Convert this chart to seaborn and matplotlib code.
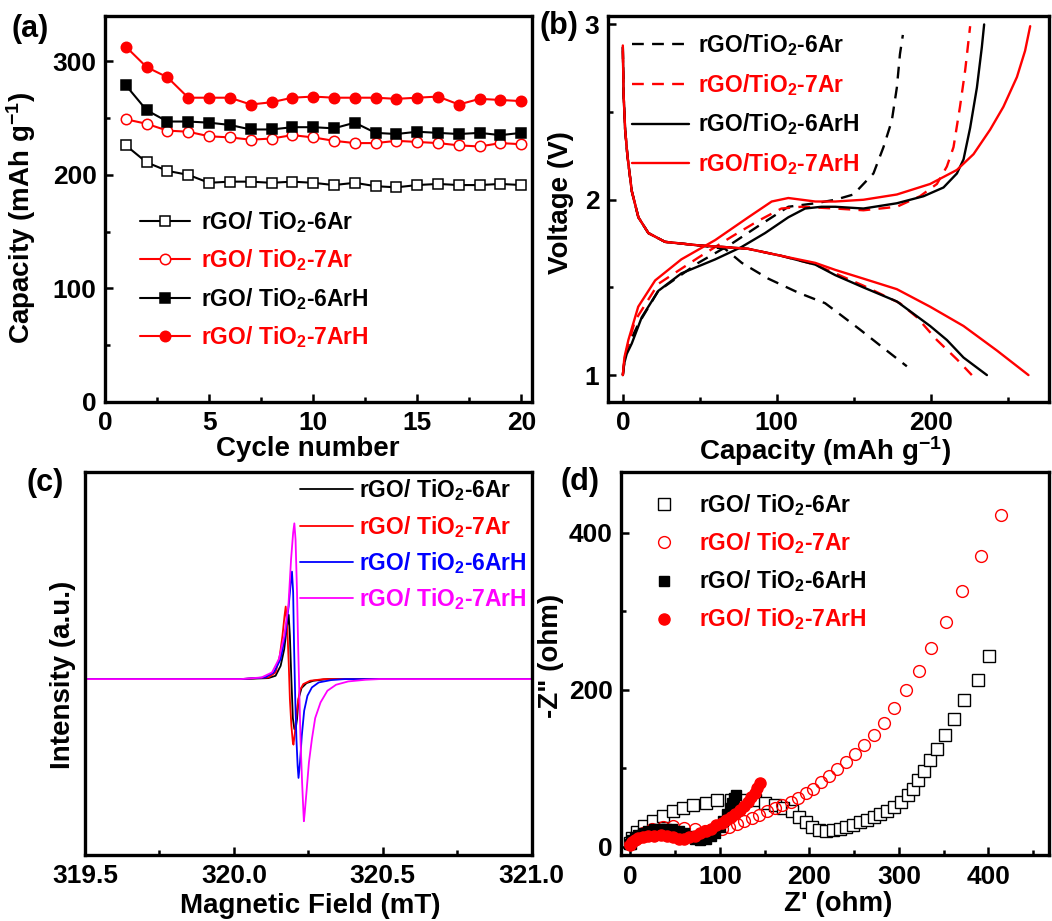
import matplotlib
matplotlib.use("Agg")
import matplotlib.pyplot as plt
import seaborn as sns
from matplotlib.ticker import MultipleLocator, FormatStrFormatter

# ---------------- (a) cycling performance ----------------
cycles = list(range(1, 21))
cap_6ar = [226, 211, 203.5, 200, 193, 194, 194, 193, 194, 193,
           191, 193, 190, 189, 191, 192, 191, 191, 192, 191]
cap_7ar = [249, 245, 239, 238, 234, 233, 231, 232, 235, 233,
           230, 228, 228, 230, 229, 228, 226, 225, 228, 227]
cap_6arh = [279, 257, 247, 247, 246, 244, 240, 240, 242, 242,
            241, 246, 237, 236, 238, 237, 236, 237, 235, 237]
cap_7arh = [313, 295, 286, 268, 268, 268, 262, 264, 268, 269,
            268, 268, 268, 267, 268, 269, 262, 267, 266, 265]

# ---------------- (b) charge / discharge profiles ----------------
dis_6ar_x = [0, 0.5, 1.5, 3, 5.8, 10.1, 16.6, 27.4, 49, 66.4, 77.3, 94.5, 114, 131.4, 139, 154, 167, 184.5]
dis_6ar_v = [2.87, 2.6, 2.4, 2.25, 2.05, 1.90, 1.81, 1.76, 1.74, 1.72, 1.64, 1.55, 1.47, 1.41, 1.36, 1.26, 1.17, 1.05]
chg_6ar_x = [0, 1, 3, 10, 23, 49, 70.8, 88, 107.5, 125, 138, 149.8, 162.8, 169.3, 174.7, 178, 180, 181.9]
chg_6ar_v = [1.0, 1.08, 1.16, 1.29, 1.48, 1.64, 1.75, 1.85, 1.96, 1.98, 2.0, 2.03, 2.15, 2.30, 2.45, 2.64, 2.83, 2.94]

dis_7ar_x = [0, 0.5, 1.5, 3, 5.8, 10.1, 16.6, 27.4, 49, 66.4, 81.5, 103, 125, 138, 156.3, 180, 191, 204, 217, 226.7]
dis_7ar_v = [2.85, 2.6, 2.4, 2.25, 2.05, 1.90, 1.81, 1.76, 1.74, 1.73, 1.72, 1.68, 1.63, 1.58, 1.51, 1.41, 1.33, 1.20, 1.09, 1.0]
chg_7ar_x = [0, 1, 3, 7.9, 23, 49, 70.8, 88, 103, 116, 138, 156.3, 178, 193, 204, 210.5, 214.8, 219, 222.4, 225.6]
chg_7ar_v = [1.0, 1.08, 1.16, 1.31, 1.52, 1.67, 1.79, 1.88, 1.95, 1.96, 1.95, 1.94, 1.96, 2.02, 2.09, 2.19, 2.30, 2.53, 2.74, 2.99]

dis_6arh_x = [0, 0.5, 1.5, 3, 5.8, 10.1, 16.6, 27.4, 49, 66.4, 81.5, 103, 125, 138, 156.3, 178, 188.8, 199.6,
              210.5, 221.3, 236.5]
dis_6arh_v = [2.87, 2.6, 2.4, 2.25, 2.05, 1.90, 1.81, 1.76, 1.74, 1.73, 1.72, 1.68, 1.63, 1.57, 1.50, 1.42, 1.35, 1.28,
              1.20, 1.10, 1.0]
chg_6arh_x = [0, 1, 2.5, 5.8, 12.3, 23, 38, 60, 77, 92.4, 107.5, 118.4, 129, 138, 156.3, 178, 195.3, 208.3,
              217, 221.3, 225.6, 230, 233.2, 234.7]
chg_6arh_v = [1.0, 1.07, 1.12, 1.18, 1.33, 1.48, 1.58, 1.66, 1.73, 1.81, 1.90, 1.95, 1.96, 1.96, 1.95, 1.98, 2.02, 2.07,
              2.15, 2.23, 2.41, 2.64, 2.87, 3.0]

dis_7arh_x = [0, 0.5, 1.5, 3, 5.8, 10.1, 16.6, 27.4, 49, 66.4, 81.5, 103, 125, 138, 156.3, 178, 199.6, 221.3, 243, 263.5]
dis_7arh_v = [2.88, 2.6, 2.4, 2.25, 2.05, 1.90, 1.81, 1.76, 1.74, 1.73, 1.72, 1.68, 1.64, 1.60, 1.55, 1.49, 1.39, 1.28,
              1.14, 1.0]
chg_7arh_x = [0, 1, 3.6, 10, 21, 38, 60, 81.5, 96.7, 107.5, 125, 138, 156.3, 178, 199.6, 217, 227.8, 238.6, 247.2,
              256, 261.3, 264.6]
chg_7arh_v = [1.0, 1.1, 1.2, 1.39, 1.54, 1.66, 1.77, 1.90, 1.99, 2.01, 1.99, 1.99, 2.0, 2.03, 2.09, 2.17, 2.26, 2.40, 2.53,
              2.70, 2.85, 2.99]

# ---------------- (c) EPR spectra ----------------
epr_6ar_b = [319.5, 320.023, 320.116, 320.14, 320.157, 320.169, 320.177, 320.184, 320.188, 320.193,
             320.198, 320.203, 320.207, 320.212, 320.217, 320.227, 320.244, 320.267, 320.314, 321.0]
epr_6ar_i = [0, 0, 0.03, 0.1, 0.4, 0.9, 1.5, 1.93, 1.3, 0.0,
             -1.17, -1.5, -1.52, -1.2, -0.6, -0.27, -0.12, -0.05, 0, 0]
epr_7ar_b = [319.5, 320.023, 320.116, 320.14, 320.154, 320.163, 320.17, 320.174, 320.179, 320.184,
             320.188, 320.193, 320.198, 320.2, 320.205, 320.212, 320.221, 320.233, 320.256, 320.302, 321.0]
epr_7ar_i = [0, 0, 0.05, 0.2, 0.7, 1.3, 1.9, 2.18, 1.6, 0.5,
             -0.6, -1.4, -1.9, -1.97, -1.6, -0.9, -0.35, -0.15, -0.05, 0, 0]
epr_6arh_b = [319.5, 320.023, 320.105, 320.134, 320.157, 320.172, 320.184, 320.191, 320.195, 320.199,
              320.202, 320.206, 320.21, 320.214, 320.217, 320.222, 320.228, 320.236, 320.247, 320.262,
              320.285, 320.326, 320.372, 321.0]
epr_6arh_i = [0, 0, 0.05, 0.2, 0.6, 1.3, 2.2, 2.9, 3.23, 2.6,
              1.0, -0.6, -1.8, -2.6, -2.97, -2.5, -1.7, -0.95, -0.5, -0.25,
              -0.1, -0.03, 0, 0]
epr_7arh_b = [319.5, 320.023, 320.093, 320.128, 320.151, 320.169, 320.183, 320.192, 320.199, 320.203,
              320.207, 320.212, 320.216, 320.22, 320.224, 320.229, 320.233, 320.235, 320.238, 320.244,
              320.252, 320.262, 320.273, 320.291, 320.314, 320.343, 320.384, 320.442, 320.488, 321.0]
epr_7arh_i = [0, 0, 0.05, 0.2, 0.6, 1.3, 2.2, 3.6, 4.4, 4.68,
              4.2, 2.6, 0.9, -0.5, -1.9, -3.1, -3.9, -4.27, -4.0, -3.37,
              -2.5, -1.8, -1.17, -0.7, -0.35, -0.17, -0.07, -0.02, 0, 0]

# ---------------- (d) Nyquist plots ----------------
z_6ar_re = [0, 2, 8, 15, 25, 36, 48, 59, 70, 84, 97, 112, 127, 139, 150, 162, 171, 181, 188, 196,
            203, 211, 219, 226, 234, 241, 249, 257, 264, 272, 279, 287, 295, 302, 310, 316, 321, 328,
            335, 343, 352, 362, 373, 388, 401]
z_6ar_im = [5, 11, 19, 26, 33, 39, 45, 49, 53, 56, 59, 59, 59, 59, 56, 53, 49, 45, 38, 32,
            25, 21, 20, 21, 23, 25, 28, 31, 34, 38, 42, 46, 51, 57, 66, 74, 85, 96,
            110, 124, 142, 163, 187, 212, 243]
z_7ar_re = [0, 6, 14, 24, 36, 48, 60, 72, 83, 93, 102, 110, 119, 127, 136, 144, 153, 162, 170, 179,
            187, 196, 204, 213, 222, 231, 241, 251, 261, 272, 283, 295, 308, 322, 336, 353, 371, 392, 414]
z_7ar_im = [3, 10, 17, 22, 25, 26, 24, 22, 20, 20, 22, 25, 29, 33, 36, 40, 45, 49, 53, 57,
            62, 68, 74, 82, 90, 99, 108, 118, 130, 142, 158, 177, 200, 224, 253, 287, 326, 371, 423]
z_6arh_re = [0, 2, 5, 9, 14, 20, 26, 33, 40, 47, 54, 60, 66, 72, 78, 84, 90, 95, 100, 104,
             108, 111, 114, 116, 118]
z_6arh_im = [3, 8, 12, 15, 18, 20, 22, 23, 23, 22, 20, 17, 13, 10, 9, 10, 13, 18, 25, 33,
             41, 49, 56, 62, 66]
z_7arh_re = [0, 2, 5, 9, 14, 20, 27, 34, 41, 48, 54, 60, 66, 72, 78, 84, 90, 96, 102, 107,
             112, 117, 122, 127, 131, 135, 139, 142, 145]
z_7arh_im = [2, 6, 9, 11, 12, 13, 14, 15, 14, 12, 10, 10, 12, 14, 17, 20, 23, 27, 30, 34,
             38, 42, 47, 52, 57, 63, 69, 75, 81]

LBL = ["rGO/ TiO$_2$-6Ar", "rGO/ TiO$_2$-7Ar", "rGO/ TiO$_2$-6ArH", "rGO/ TiO$_2$-7ArH"]
LBL_B = ["rGO/TiO$_2$-6Ar", "rGO/TiO$_2$-7Ar", "rGO/TiO$_2$-6ArH", "rGO/TiO$_2$-7ArH"]

sns.set_style("ticks", rc={"axes.edgecolor": "black", "xtick.color": "black",
                           "ytick.color": "black", "text.color": "black",
                           "axes.labelcolor": "black"})
plt.rcParams["font.family"] = ["Liberation Sans", "DejaVu Sans"]
plt.rcParams["font.weight"] = "bold"
plt.rcParams["axes.labelweight"] = "bold"
plt.rcParams["mathtext.fontset"] = "custom"
plt.rcParams["mathtext.rm"] = "Liberation Sans:bold"
plt.rcParams["mathtext.it"] = "Liberation Sans:bold"
plt.rcParams["mathtext.bf"] = "Liberation Sans:bold"
plt.rcParams["mathtext.default"] = "rm"

TICK_FS = 19
LABEL_FS = 20
LEG_FS = 16.5


def draw(ax, x, y, **kw):
    sns.lineplot(x=x, y=y, ax=ax, sort=False, estimator=None, legend=False, **kw)


def style_axes(ax):
    for sp in ax.spines.values():
        sp.set_linewidth(2.4)
    ax.tick_params(which="both", direction="in", width=1.8, labelsize=TICK_FS,
                   top=False, right=False)
    ax.tick_params(which="major", length=6)
    ax.tick_params(which="minor", length=3.5)
    ax.tick_params(axis="x", pad=7)
    ax.tick_params(axis="y", pad=6)


fig = plt.figure(figsize=(10.52, 9.21), dpi=100)
ax_a = fig.add_axes([0.0998, 0.5638, 0.4056, 0.4188])
ax_b = fig.add_axes([0.5777, 0.5638, 0.4197, 0.4192])
ax_c = fig.add_axes([0.0808, 0.0722, 0.4246, 0.4156])
ax_d = fig.add_axes([0.5903, 0.0717, 0.4071, 0.4161])

# ---- (a)
draw(ax_a, cycles, cap_6ar, color="black", lw=1.5, marker="s", markersize=6.5,
     markerfacecolor="white", markeredgecolor="black", markeredgewidth=1.1, label=LBL[0])
draw(ax_a, cycles, cap_7ar, color="red", lw=1.5, marker="o", markersize=7.5,
     markerfacecolor="white", markeredgecolor="red", markeredgewidth=1.1, label=LBL[1])
draw(ax_a, cycles, cap_6arh, color="black", lw=1.5, marker="s", markersize=6.5,
     markerfacecolor="black", markeredgecolor="black", markeredgewidth=1.1, label=LBL[2])
draw(ax_a, cycles, cap_7arh, color="red", lw=1.5, marker="o", markersize=7.5,
     markerfacecolor="red", markeredgecolor="red", markeredgewidth=1.1, label=LBL[3])
ax_a.set_xlim(0, 20.5)
ax_a.set_ylim(0, 340)
ax_a.xaxis.set_major_locator(MultipleLocator(5))
ax_a.xaxis.set_minor_locator(MultipleLocator(2.5))
ax_a.yaxis.set_major_locator(MultipleLocator(100))
ax_a.yaxis.set_minor_locator(MultipleLocator(50))
ax_a.set_xlabel("Cycle number", fontsize=LABEL_FS)
ax_a.set_ylabel("Capacity (mAh g$^{-1}$)", fontsize=LABEL_FS)
ax_a.xaxis.set_label_coords(0.475, -0.09)
ax_a.yaxis.set_label_coords(-0.157, 0.476)
ax_a.legend(loc="upper left", bbox_to_anchor=(0.082, 0.50), frameon=False,
            fontsize=LEG_FS, handlelength=2.2, handletextpad=0.45, labelspacing=0.55,
            borderpad=0, borderaxespad=0, labelcolor=["black", "red", "black", "red"])

# ---- (b)
dash = (0, (5, 3.5))
draw(ax_b, dis_6ar_x, dis_6ar_v, color="black", lw=1.7, linestyle=dash, label=LBL_B[0])
draw(ax_b, chg_6ar_x, chg_6ar_v, color="black", lw=1.7, linestyle=dash)
draw(ax_b, dis_7ar_x, dis_7ar_v, color="red", lw=1.7, linestyle=dash, label=LBL_B[1])
draw(ax_b, chg_7ar_x, chg_7ar_v, color="red", lw=1.7, linestyle=dash)
draw(ax_b, dis_6arh_x, dis_6arh_v, color="black", lw=1.7, label=LBL_B[2])
draw(ax_b, chg_6arh_x, chg_6arh_v, color="black", lw=1.7)
draw(ax_b, dis_7arh_x, dis_7arh_v, color="red", lw=1.7, label=LBL_B[3])
draw(ax_b, chg_7arh_x, chg_7arh_v, color="red", lw=1.7)
ax_b.set_xlim(-9.8, 277)
ax_b.set_ylim(0.848, 3.05)
ax_b.xaxis.set_major_locator(MultipleLocator(100))
ax_b.xaxis.set_minor_locator(MultipleLocator(50))
ax_b.yaxis.set_major_locator(MultipleLocator(1))
ax_b.yaxis.set_minor_locator(MultipleLocator(0.5))
ax_b.set_xlabel("Capacity (mAh g$^{-1}$)", fontsize=LABEL_FS)
ax_b.set_ylabel("Voltage (V)", fontsize=LABEL_FS)
ax_b.xaxis.set_label_coords(0.493, -0.085)
ax_b.yaxis.set_label_coords(-0.076, 0.517)
ax_b.legend(loc="upper left", bbox_to_anchor=(0.055, 0.957), frameon=False,
            fontsize=LEG_FS, handlelength=2.5, handletextpad=0.4, labelspacing=0.6,
            borderpad=0, borderaxespad=0, labelcolor=["black", "red", "black", "red"])

# ---- (c)
c_cols = ["black", "red", "blue", "magenta"]
draw(ax_c, epr_6ar_b, epr_6ar_i, color=c_cols[0], lw=1.3, label=LBL[0])
draw(ax_c, epr_7ar_b, epr_7ar_i, color=c_cols[1], lw=1.3, label=LBL[1])
draw(ax_c, epr_6arh_b, epr_6arh_i, color=c_cols[2], lw=1.3, label=LBL[2])
draw(ax_c, epr_7arh_b, epr_7arh_i, color=c_cols[3], lw=1.3, label=LBL[3])
ax_c.set_xlim(319.5, 321.0)
ax_c.set_ylim(-5.27, 6.23)
ax_c.xaxis.set_major_locator(MultipleLocator(0.5))
ax_c.xaxis.set_minor_locator(MultipleLocator(0.25))
ax_c.xaxis.set_major_formatter(FormatStrFormatter("%.1f"))
ax_c.set_yticks([])
ax_c.set_xlabel("Magnetic Field (mT)", fontsize=LABEL_FS)
ax_c.set_ylabel("Intensity (a.u.)", fontsize=LABEL_FS)
ax_c.xaxis.set_label_coords(0.504, -0.1)
ax_c.yaxis.set_label_coords(-0.02, 0.47)
ax_c.legend(loc="upper left", bbox_to_anchor=(0.481, 0.985), frameon=False,
            fontsize=LEG_FS, handlelength=2.3, handletextpad=0.3, labelspacing=0.45,
            borderpad=0, borderaxespad=0, labelcolor=c_cols)

# ---- (d)
draw(ax_d, z_6ar_re, z_6ar_im, color="black", linestyle="none", marker="s", markersize=8.5,
     markerfacecolor="white", markeredgecolor="black", markeredgewidth=1.0, label=LBL[0])
draw(ax_d, z_7ar_re, z_7ar_im, color="red", linestyle="none", marker="o", markersize=8.5,
     markerfacecolor="none", markeredgecolor="red", markeredgewidth=1.0, label=LBL[1])
draw(ax_d, z_6arh_re, z_6arh_im, color="black", linestyle="none", marker="s", markersize=7.5,
     markerfacecolor="black", markeredgecolor="black", markeredgewidth=1.0, label=LBL[2])
draw(ax_d, z_7arh_re, z_7arh_im, color="red", linestyle="none", marker="o", markersize=8,
     markerfacecolor="red", markeredgecolor="red", markeredgewidth=1.0, label=LBL[3])
ax_d.set_xlim(-10.4, 468)
ax_d.set_ylim(-10.6, 478)
ax_d.xaxis.set_major_locator(MultipleLocator(100))
ax_d.xaxis.set_minor_locator(MultipleLocator(50))
ax_d.yaxis.set_major_locator(MultipleLocator(200))
ax_d.yaxis.set_minor_locator(MultipleLocator(100))
ax_d.set_xlabel("Z' (ohm)", fontsize=LABEL_FS)
ax_d.set_ylabel("-Z\" (ohm)", fontsize=LABEL_FS)
ax_d.xaxis.set_label_coords(0.506, -0.095)
ax_d.yaxis.set_label_coords(-0.133, 0.52)
ax_d.legend(loc="upper left", bbox_to_anchor=(0.074, 0.946), frameon=False,
            fontsize=LEG_FS, handlelength=1.0, numpoints=1, handletextpad=1.0,
            labelspacing=0.53, borderpad=0, borderaxespad=0,
            labelcolor=["black", "red", "black", "red"])

for ax in (ax_a, ax_b, ax_c, ax_d):
    style_axes(ax)

# panel letters
fig.text(0.011, 0.9685, "(a)", fontsize=22, fontweight="bold", va="center")
fig.text(0.513, 0.972, "(b)", fontsize=22, fontweight="bold", va="center")
fig.text(0.025, 0.4756, "(c)", fontsize=22, fontweight="bold", va="center")
fig.text(0.533, 0.4766, "(d)", fontsize=22, fontweight="bold", va="center")

fig.savefig("out.png", dpi=100)
